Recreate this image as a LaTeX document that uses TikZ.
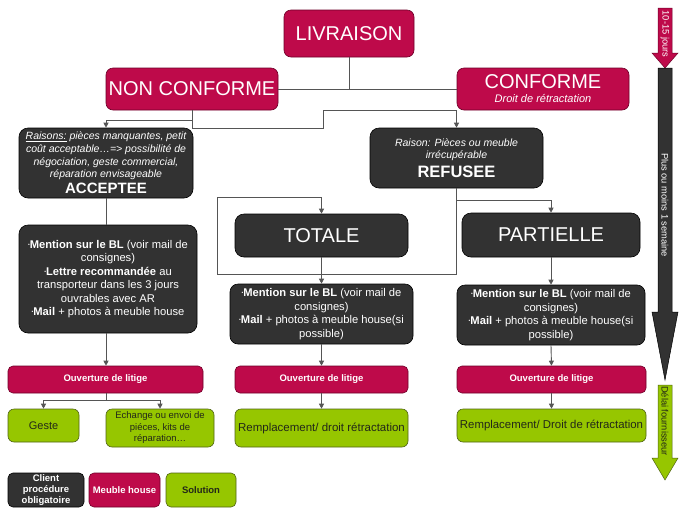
\documentclass[tikz,border=0pt]{standalone}
\usepackage{fontspec}
\setmainfont{Liberation Sans}
\usetikzlibrary{arrows.meta}
\definecolor{crim}{RGB}{190,10,74}
\definecolor{crimD}{RGB}{110,0,40}
\definecolor{darkbox}{RGB}{50,50,50}
\definecolor{sol}{RGB}{150,198,0}
\definecolor{solD}{RGB}{80,100,20}
\definecolor{soltxt}{RGB}{35,40,25}
\definecolor{lineC}{RGB}{85,85,85}
\newcommand{\bul}{\raisebox{1.8pt}{\fontsize{5}{5}\selectfont •}}
\tikzset{
  crimbox/.style={draw=crimD, line width=0.6pt, fill=crim, rounded corners=7pt, text=white, align=center, inner sep=1pt},
  darkbx/.style={draw=black, line width=0.6pt, fill=darkbox, rounded corners=9pt, text=white, align=center, inner sep=1pt},
  solbox/.style={draw=solD, line width=0.6pt, fill=sol, rounded corners=6pt, text=soltxt, align=center, inner sep=1pt},
  smallcrim/.style={crimbox, rounded corners=5pt, font=\fontsize{9.5}{11}\selectfont\bfseries},
  conn/.style={draw=lineC, line width=0.9pt},
  arr/.style={conn, -{Triangle[length=5pt,width=5pt]}},
  big/.style={font=\fontsize{20}{24}\selectfont},
  mention/.style={font=\fontsize{11.2}{13.5}\selectfont},
  vtxt/.style={rotate=-90, font=\fontsize{9.3}{10}\selectfont, inner sep=0pt},
}
\begin{document}
\begin{tikzpicture}[x=1pt,y=-1pt]
\useasboundingbox (0,0) rectangle (686,515);
\fill[white] (0,0) rectangle (686,515);

% top level
\node[crimbox, big, minimum width=130pt, minimum height=47pt] (liv) at (349,33.5) {LIVRAISON};
\node[crimbox, big, minimum width=172pt, minimum height=42pt] (nc) at (192,89) {NON CONFORME};
\node[crimbox, font=\fontsize{11}{14}\selectfont, minimum width=172pt, minimum height=42pt] (conf) at (543,89)
  {{\fontsize{20}{20}\selectfont CONFORME}\\{\itshape Droit de rétractation}};

% second level
\node[darkbx, font=\fontsize{10.5}{12.6}\selectfont\itshape, minimum width=174pt, minimum height=70pt] (acc) at (106,163)
  {\underline{Raisons:} pièces manquantes, petit\\coût acceptable…=> possibilité de\\négociation, geste commercial,\\réparation envisageable\\[2.5pt]{\upshape\bfseries\fontsize{15}{15}\selectfont ACCEPTEE}};
\node[darkbx, font=\fontsize{10.5}{12}\selectfont, minimum width=173pt, minimum height=60pt] (ref) at (456.5,158)
  {{\itshape Raison: Pièces ou meuble}\\{\itshape irrécupérable}\\[4pt]{\bfseries\fontsize{16.5}{16.5}\selectfont REFUSEE}};

\node[darkbx, big, minimum width=173pt, minimum height=43pt] (tot) at (321.5,235.5) {TOTALE};
\node[darkbx, big, minimum width=178pt, minimum height=44pt] (par) at (551,235) {PARTIELLE};

% mention boxes
\node[darkbx, mention, minimum width=178pt, minimum height=108pt] (macc) at (108,279)
  {\bul\textbf{Mention sur le BL} (voir mail de\\consignes)\\\bul\textbf{Lettre recommandée} au\\transporteur dans les 3 jours\\ouvrables avec AR\\\bul\textbf{Mail} + photos à meuble house};
\node[darkbx, mention, rounded corners=8pt, minimum width=183pt, minimum height=60pt] (mtot) at (321.5,314)
  {\bul\textbf{Mention sur le BL} (voir mail de\\consignes)\\\bul\textbf{Mail} + photos à meuble house(si\\possible)};
\node[darkbx, mention, rounded corners=8pt, minimum width=188pt, minimum height=60pt] (mpar) at (551,315)
  {\bul\textbf{Mention sur le BL} (voir mail de\\consignes)\\\bul\textbf{Mail} + photos à meuble house(si\\possible)};

% ouverture de litige
\node[smallcrim, minimum width=195pt, minimum height=27pt] (ol) at (105.5,379.5) {Ouverture de litige};
\node[smallcrim, minimum width=173pt, minimum height=27pt] (om) at (321.5,379.5) {Ouverture de litige};
\node[smallcrim, minimum width=189pt, minimum height=27pt] (or) at (551.5,379.5) {Ouverture de litige};

% solutions
\node[solbox, font=\fontsize{11}{13}\selectfont, minimum width=71pt, minimum height=33pt] (geste) at (43.5,425.5) {Geste};
\node[solbox, font=\fontsize{9.5}{11.5}\selectfont, minimum width=108pt, minimum height=38pt] (ech) at (160,428)
  {Echange ou envoi de\\piéces, kits de\\réparation…};
\node[solbox, font=\fontsize{11.5}{13}\selectfont, minimum width=173pt, minimum height=38pt] (rm) at (321.5,428)
  {Remplacement/ droit rétractation};
\node[solbox, font=\fontsize{11.4}{13}\selectfont, inner sep=0pt, minimum width=189pt, minimum height=33pt] (rr) at (551.5,425.5)
  {Remplacement/ Droit de rétractation};

% legend
\node[darkbx, rounded corners=5pt, font=\fontsize{9.5}{11}\selectfont\bfseries, minimum width=76pt, minimum height=34pt] (leg1) at (46,490)
  {Client\\procédure\\obligatoire};
\node[crimbox, rounded corners=5pt, font=\fontsize{9.5}{11}\selectfont\bfseries, minimum width=71pt, minimum height=34pt] (leg2) at (124.5,490)
  {Meuble house};
\node[solbox, rounded corners=5pt, font=\fontsize{9.5}{11}\selectfont\bfseries, minimum width=70pt, minimum height=34pt] (leg3) at (201,490)
  {Solution};

% connectors
\draw[conn] (nc.east) -- (conf.west);
\draw[conn] (liv.south) -- (liv.south |- nc.east);
\draw[arr] (nc.south) -- ++(0,10) -| (acc.north);
\draw[arr] (nc.south) -- (192,128) -- (323,128) -- (323,110) -- (ref.north |- 0,110) -- (ref.north);
\draw[arr] (ref.south) -- ++(0,12) -| (par.north);
\draw[arr] (ref.south) -- (ref.south |- 0,274) -- (217,274) -- (217,197) -- (tot.north |- 0,197) -- (tot.north);
\draw[arr] (tot.south) -- (mtot.north);
\draw[arr] (par.south) -- (mpar.north);
\draw[conn] (acc.south) -- (macc.north -| acc.south);
\draw[arr] (macc.south -| acc.south) -- (ol.north -| acc.south);
\draw[arr] (mtot.south) -- (om.north);
\draw[arr] (mpar.south) -- (or.north);
\draw[conn] (ol.south -| acc.south) -- ++(0,7) coordinate (split);
\draw[arr] (split) -| (geste.north);
\draw[arr] (split) -| (ech.north);
\draw[arr] (om.south) -- (rm.north);
\draw[arr] (or.south) -- (rr.north);

% time arrows
\filldraw[fill=crim, draw=crimD, line width=0.5pt] (658,8) -- (672,8) -- (672,53) -- (678,53) -- (665,68) -- (652,53) -- (658,53) -- cycle;
\filldraw[fill=darkbox, draw=black, line width=0.5pt] (658,68) -- (672,68) -- (672,312) -- (678,312) -- (665,380) -- (652,312) -- (658,312) -- cycle;
\filldraw[fill=sol, draw=solD, line width=0.5pt] (658,385) -- (672,385) -- (672,458) -- (678,458) -- (665,480) -- (652,458) -- (658,458) -- cycle;
\node[vtxt, text=white] (t1) at (665,34) {10-15 jours};
\node[vtxt, text=white] (t2) at (665,205) {Plus ou moins 1 semaine};
\node[vtxt, text=soltxt] (t3) at (665,421) {Délai fournisseur};
\end{tikzpicture}
\end{document}
